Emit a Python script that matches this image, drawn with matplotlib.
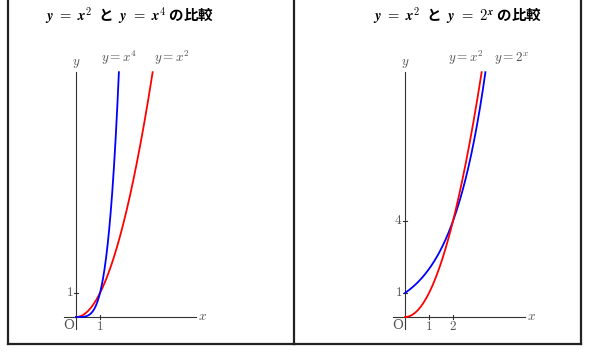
import numpy as np
import matplotlib
matplotlib.use("Agg")
import matplotlib.pyplot as plt

plt.rcParams['mathtext.fontset'] = 'cm'
plt.rcParams['font.family'] = ['Noto Sans CJK JP', 'DejaVu Sans']

# panel contents
titles = [r"$\mathbfit{y}\ \mathbf{=}\ \mathbfit{x}^{\mathbf{2}}$  と  $\mathbfit{y}\ \mathbf{=}\ \mathbfit{x}^{\mathbf{4}}$ の比較",
          r"$\mathbfit{y}\ \mathbf{=}\ \mathbfit{x}^{\mathbf{2}}$  と  $\mathbfit{y}\ \mathbf{=}\ \mathbf{2}^{\mathbfit{x}}$ の比較"]
curve_labels = [[r"$y=x^4$", r"$y=x^2$"], [r"$y=x^2$", r"$y=2^x$"]]
xticks = [[1], [1, 2]]
yticks = [[1], [1, 4]]
y_top = 10.2          # curves are cut at this height
x_axis_end = 5.0
y_axis_end = 10.2

unit = 24.0           # pixels per unit on both axes
W, H = 589, 352
fig = plt.figure(figsize=(W / 100, H / 100), dpi=100)

# pixel geometry: (left, right, origin x)
panels = [(8, 294, 76), (294, 581, 405)]
bottom_px, origin_y = 344, 317

grey = '#555555'
for i, (l, r, ox) in enumerate(panels):
    ax = fig.add_axes([l / W, 1 - bottom_px / H, (r - l) / W, bottom_px / H])
    ax.set_xlim((l - ox) / unit, (r - ox) / unit)
    ax.set_ylim(-(bottom_px - origin_y) / unit, origin_y / unit)
    ax.set_xticks([]); ax.set_yticks([])
    ax.patch.set_alpha(0)
    for s in ax.spines.values():
        s.set_color('#222222'); s.set_linewidth(1.6)
    ax.spines['top'].set_visible(False)
    if i == 1:
        ax.spines['left'].set_visible(False)

    # coordinate axes
    ax.plot([-0.5, x_axis_end], [0, 0], color='#333333', lw=0.8)
    ax.plot([0, 0], [-0.5, y_axis_end], color='#333333', lw=0.8)
    ax.text(x_axis_end + 0.08, 0, r"$x$", color=grey, fontsize=9.5, va='center', ha='left')
    ax.text(0, y_axis_end + 0.1, r"$y$", color=grey, fontsize=9.5, va='bottom', ha='center')
    ax.text(-0.08, -0.08, "O", color=grey, fontsize=9.5, family='DejaVu Serif', va='top', ha='right')
    for t in xticks[i]:
        ax.plot([t, t], [-0.08, 0.08], color='#333333', lw=0.8)
        ax.text(t, -0.12, r"$%d$" % t, color=grey, fontsize=9.5, va='top', ha='center')
    for t in yticks[i]:
        ax.plot([-0.08, 0.08], [t, t], color='#333333', lw=0.8)
        ax.text(-0.12, t, r"$%d$" % t, color=grey, fontsize=9.5, va='center', ha='right')

    if i == 0:
        x4 = np.linspace(0, y_top ** 0.25, 200)
        x2 = np.linspace(0, y_top ** 0.5, 200)
        ax.plot(x2, x2 ** 2, color='red', lw=1.3)
        ax.plot(x4, x4 ** 4, color='blue', lw=1.3)
        ax.text(1.8, 10.4, curve_labels[0][0], color=grey, fontsize=9.5, ha='center', va='bottom')
        ax.text(4.0, 10.4, curve_labels[0][1], color=grey, fontsize=9.5, ha='center', va='bottom')
        ax.text(2.25, 12.55, titles[0], fontsize=10.5, fontweight='bold', ha='center', va='center')
    else:
        xb = np.linspace(0, np.log2(y_top), 200)
        x2 = np.linspace(0, y_top ** 0.5, 200)
        ax.plot(xb, 2 ** xb, color='blue', lw=1.3)
        ax.plot(x2, x2 ** 2, color='red', lw=1.3)
        ax.text(2.55, 10.4, curve_labels[1][0], color=grey, fontsize=9.5, ha='center', va='bottom')
        ax.text(4.45, 10.4, curve_labels[1][1], color=grey, fontsize=9.5, ha='center', va='bottom')
        ax.text(2.2, 12.55, titles[1], fontsize=10.5, fontweight='bold', ha='center', va='center')

fig.savefig("out.png", dpi=100)
